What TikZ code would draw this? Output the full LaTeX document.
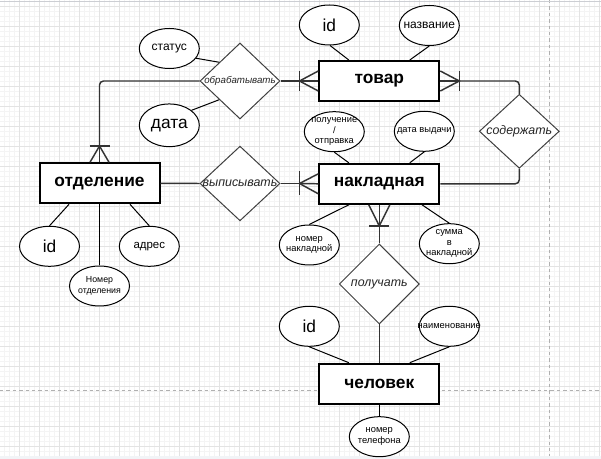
\documentclass[tikz,border=0pt]{standalone}
\usepackage{fontspec}
\setmainfont{Liberation Sans}
\usetikzlibrary{shapes.geometric,calc}
\definecolor{gridmaj}{HTML}{E3E3E3}
\definecolor{gridmin}{HTML}{F4F4F4}
\definecolor{pagebrk}{HTML}{B0B0B0}
\definecolor{relgray}{HTML}{404040}
\definecolor{topline}{HTML}{CCCED3}
\definecolor{botstrip}{HTML}{F2F4F7}
\tikzset{
  ent/.style={draw=black, line width=1.5pt, fill=white, minimum width=90pt, minimum height=30pt, inner sep=0pt, font=\fontsize{13}{15}\selectfont\bfseries},
  attr/.style={ellipse, draw=black, line width=0.75pt, fill=white, minimum width=45pt, minimum height=30pt, inner sep=0pt},
  atxt/.style={inner sep=0pt, align=center, text=black},
  rel/.style={diamond, draw=relgray, line width=0.75pt, fill=white, inner sep=0pt, minimum width=60pt},
  reltxt/.style={inner sep=0pt, text=black!85, font=\fontsize{9.3}{11}\selectfont\itshape},
  conn/.style={draw=black, line width=0.75pt},
  link/.style={draw=black!80, line width=1.1pt},
  fbig/.style={font=\fontsize{13}{15}\selectfont},
  fmid/.style={font=\fontsize{9}{10}\selectfont},
  fsmall/.style={font=\fontsize{7}{8}\selectfont},
}
\begin{document}
\begin{tikzpicture}[x=0.75pt,y=-0.75pt]
\useasboundingbox (0,0) rectangle (601,459);
\clip (0,0) rectangle (601,459);
% background
\fill[white] (0,0) rectangle (601,459);
\foreach \x in {4.5,9.5,...,600} \draw[gridmin, line width=0.75pt] (\x,0) -- (\x,456);
\foreach \y in {1.7,6.7,...,456} \draw[gridmin, line width=0.75pt] (0,\y) -- (601,\y);
\foreach \x in {19.5,39.5,...,600} \draw[gridmaj, line width=0.75pt] (\x,0) -- (\x,456);
\foreach \y in {6.7,26.7,...,456} \draw[gridmaj, line width=0.75pt] (0,\y) -- (601,\y);
\draw[pagebrk, line width=0.75pt, dash pattern=on 2.6pt off 2.2pt] (549.5,0) -- (549.5,456);
\draw[pagebrk, line width=0.75pt, dash pattern=on 2.6pt off 2.2pt] (0,391) -- (601,391);
\draw[topline, line width=0.75pt] (0,1.8) -- (601,1.8);
\fill[botstrip] (0,456) rectangle (601,459);

% coordinates for bars
\coordinate (bTl) at (299.5,81);
\coordinate (bTr) at (459.3,81);
\coordinate (bNl) at (299.5,183.5);
\coordinate (bNb) at (379.3,226);
\coordinate (bO) at (99.5,146);

% entities
\node[ent] (tovar) at (379.3,81) {товар};
\node[ent] (nak) at (379.3,183.8) {накладная};
\node[ent] (otd) at (99.5,183.3) {отделение};
\node[ent] (chel) at (379.3,383.7) {человек};

% relationships
\node[rel, minimum height=57pt] (obr) at (240,81) {};
\node[reltxt, font=\fontsize{7.3}{9}\selectfont\itshape] (obr-t) at (obr) {обрабатывать};
\node[rel, minimum height=56pt] (vyp) at (240,183.5) {};
\node[reltxt] (vyp-t) at (vyp) {выписывать};
\node[rel, minimum height=55.5pt] (sod) at (519.3,131.3) {};
\node[reltxt] (sod-t) at (sod) {содержать};
\node[rel, minimum height=60pt] (pol) at (379.3,284) {};
\node[reltxt] (pol-t) at (pol) {получать};

% attributes
\node[attr] (status) at (169.3,48.5) {};
\node[atxt, fmid] (status-t) at (status) {статус};
\node[attr, minimum height=32pt] (data) at (169.3,125.3) {};
\node[atxt, fbig] (data-t) at (data) {дата};
\node[attr] (idt) at (329.3,25) {};
\node[atxt, fbig] (idt-t) at (idt) {id};
\node[attr] (nazv) at (429.3,25.5) {};
\node[atxt, fmid] (nazv-t) at (nazv) {название};
\node[attr] (polu) at (334.3,131.7) {};
\node[atxt, fsmall] (polu-t) at (polu) {получение\\/\\отправка};
\node[attr] (datav) at (424.3,131.3) {};
\node[atxt, fsmall] (datav-t) at (datav) {дата выдачи};
\node[attr] (nomn) at (309.3,245) {};
\node[atxt, fsmall] (nomn-t) at (nomn) {номер\\накладной};
\node[attr] (summa) at (449.3,243.7) {};
\node[atxt, fsmall] (summa-t) at (summa) {сумма\\в\\накладной};
\node[attr] (ido) at (49.5,246.3) {};
\node[atxt, fbig] (ido-t) at (ido) {id};
\node[attr] (adr) at (149.3,246.3) {};
\node[atxt, font=\fontsize{8.6}{10}\selectfont] (adr-t) at (adr) {адрес};
\node[attr] (nomo) at (99.5,286) {};
\node[atxt, font=\fontsize{6.6}{8.7}\selectfont] (nomo-t) at (nomo) {Номер\\отделения};
\node[attr] (idc) at (309.3,326.3) {};
\node[atxt, fbig] (idc-t) at (idc) {id};
\node[attr] (naim) at (449.3,326.3) {};
\node[atxt, fsmall] (naim-t) at (naim) {наименование};
\node[attr] (tel) at (379.3,436.7) {};
\node[atxt, fsmall] (tel-t) at (tel) {номер\\телефона};

% attribute connectors
\begin{scope}[on background layer/.style={}]
\draw[conn] (status.-20) -- (obr.138);
\draw[conn] (data.34) -- (obr.222);
\draw[conn] (idt.-88) -- ($(tovar.north west)!0.25!(tovar.north east)$);
\draw[conn] (nazv.-90) -- ($(tovar.north west)!0.75!(tovar.north east)$);
\draw[conn] (polu.south) -- ($(nak.north west)!0.25!(nak.north east)$);
\draw[conn] (datav.south) -- ($(nak.north west)!0.75!(nak.north east)$);
\draw[conn] (nomn.north) -- ($(nak.south west)!0.25!(nak.south east)$);
\draw[conn] (summa.north) -- ($(nak.south west)!0.85!(nak.south east)$);
\draw[conn] (idc.south) -- ($(chel.north west)!0.25!(chel.north east)$);
\draw[conn] (naim.south) -- ($(chel.north west)!0.75!(chel.north east)$);
\draw[conn] (chel.south) -- (tel.north);
\draw[conn] (ido.north) -- ($(otd.south west)!0.25!(otd.south east)$);
\draw[conn] (adr.north) -- ($(otd.south west)!0.75!(otd.south east)$);
\draw[conn] (otd.south) -- (nomo.north);
\end{scope}

% relationship links
\draw[link] (obr.east) -- (bTl);
\draw[link, rounded corners=3pt] (obr.west) -| (bO);
\draw[link] (otd.east) -- (vyp.west);
\draw[link] (vyp.east) -- (bNl);
\draw[link, rounded corners=3pt] (nak.east) -| (sod.south);
\draw[link, rounded corners=3pt] (sod.north) |- (bTr);
\draw[link] (bNb) -- (pol.north);
\draw[link] (pol.south) -- (chel.north);

% crow's feet (one-or-many)
\draw[link] (bTl) -- (tovar.west);
\draw[link] ($(tovar.west)+(0,-10)$) -- (bTl) -- ($(tovar.west)+(0,10)$);
\draw[link] ($(bTl)+(0,-10)$) -- ($(bTl)+(0,10)$);

\draw[link] (bTr) -- (tovar.east);
\draw[link] ($(tovar.east)+(0,-10)$) -- (bTr) -- ($(tovar.east)+(0,10)$);
\draw[link] ($(bTr)+(0,-10)$) -- ($(bTr)+(0,10)$);

\draw[link] (bNl) -- (nak.west);
\draw[link] ($(nak.west)+(0,-10)$) -- (bNl) -- ($(nak.west)+(0,10)$);
\draw[link] ($(bNl)+(0,-12)$) -- ($(bNl)+(0,12)$);

\draw[link] (bNb) -- (nak.south);
\draw[link] ($(nak.south)+(-10.5,0)$) -- (bNb) -- ($(nak.south)+(10.5,0)$);
\draw[link] ($(bNb)+(-10,0)$) -- ($(bNb)+(10,0)$);

\draw[link] (bO) -- (otd.north);
\draw[link] ($(otd.north)+(-9.5,0)$) -- (bO) -- ($(otd.north)+(9.5,0)$);
\draw[link] ($(bO)+(-10,0)$) -- ($(bO)+(10,0)$);
\end{tikzpicture}
\end{document}
